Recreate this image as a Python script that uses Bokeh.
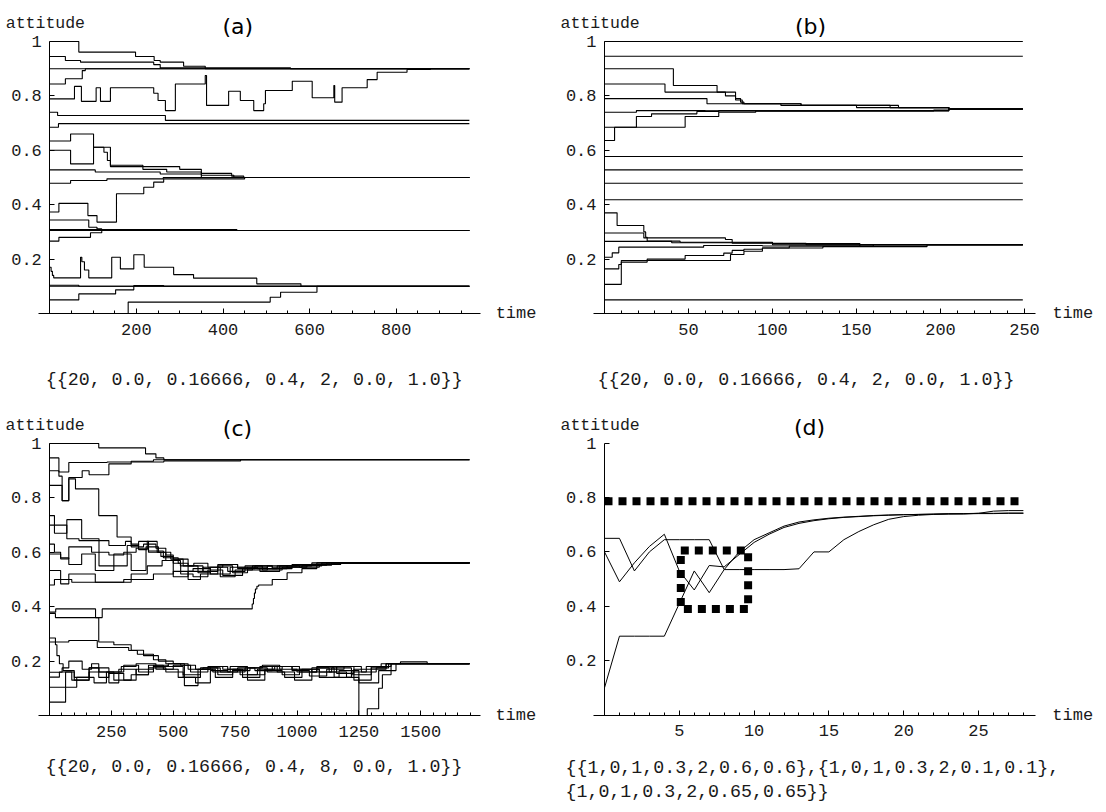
from bokeh.plotting import figure
from bokeh.models import Range1d, LinearAxis, FixedTicker, Label
from bokeh.layouts import column, row
from bokeh.embed import file_html
from bokeh.resources import INLINE

MONO = "Liberation Mono"
SANS = "DejaVu Sans"
INK = "#1a1a1a"

# ---------------- axis ticks ----------------
Y_TICKS = [0.2, 0.4, 0.6, 0.8, 1.0]
Y_LABELS = ["0.2", "0.4", "0.6", "0.8", "1"]
A_XTICKS = [200, 400, 600, 800]
B_XTICKS = [50, 100, 150, 200, 250]
C_XTICKS = [250, 500, 750, 1000, 1250, 1500]
D_XTICKS = [5, 10, 15, 20, 25]
A_MINOR, B_MINOR, C_MINOR, D_MINOR = 50, 10, 50, 1

# ---------------- panel (a): step trajectories ----------------
A_END = 969
a_times = [
    [0, 67, 198, 241, 255, 309, 359],
    [0, 36, 71, 240, 255, 556],
    [0],
    [0, 36, 75, 82],
    [0, 57, 73, 107, 117, 140, 240, 250, 267, 290, 359, 362, 413, 440, 471, 494, 498, 560, 606, 656, 658, 675, 733, 756, 825, 879],
    [0, 18, 267],
    [0, 20],
    [0, 48, 101, 125, 133, 140, 300, 350, 420, 448],
    [0, 48, 101, 140, 215, 270, 350],
    [0, 105, 255, 350, 425],
    [0, 48, 132, 262],
    [0, 21, 88, 109, 154, 217, 240, 263, 450],
    [0, 90, 109, 120],
    [0, 432],
    [0, 21, 94, 120],
    [0],
    [0, 3, 6, 9, 71, 74, 80, 90, 143, 163, 194, 218, 286, 332, 478, 580],
    [0, 67],
    [0, 67, 152, 194, 263],
    [0, 181, 509, 533, 617],
    [0],
]
a_values = [
    [1.0, 0.961, 0.945, 0.93, 0.924, 0.909, 0.9],
    [0.945, 0.93, 0.924, 0.915, 0.903, 0.9],
    [0.9],
    [0.844, 0.863, 0.893, 0.9],
    [0.789, 0.835, 0.78, 0.83, 0.78, 0.83, 0.81, 0.783, 0.746, 0.844, 0.875, 0.765, 0.817, 0.783, 0.746, 0.771, 0.82, 0.854, 0.793, 0.838, 0.777, 0.83, 0.86, 0.887, 0.897, 0.9],
    [0.74, 0.728, 0.71],
    [0.685, 0.698],
    [0.634, 0.66, 0.611, 0.593, 0.5625, 0.54, 0.53, 0.515, 0.505, 0.5],
    [0.60, 0.55, 0.611, 0.545, 0.53, 0.52, 0.5],
    [0.528, 0.52, 0.513, 0.508, 0.5],
    [0.479, 0.489, 0.495, 0.5],
    [0.373, 0.405, 0.36, 0.336, 0.44, 0.464, 0.483, 0.495, 0.5],
    [0.344, 0.317, 0.311, 0.305],
    [0.309, 0.305],
    [0.266, 0.28, 0.297, 0.305],
    [0.305],
    [0.17, 0.155, 0.14, 0.131, 0.207, 0.19, 0.16, 0.131, 0.207, 0.164, 0.216, 0.17, 0.143, 0.13, 0.109, 0.1],
    [0.104, 0.1],
    [0.05, 0.072, 0.087, 0.103, 0.1],
    [0.0, 0.042, 0.06, 0.078, 0.1],
    [0.1],
]

# ---------------- panel (b) ----------------
B_END = 249
b_times = [
    [0], [0], [0], [0], [0], [0], [0],
    [0, 41, 67, 78, 81, 83, 117, 150, 205],
    [0, 36, 72, 78, 82, 105, 170, 205],
    [0, 61, 117, 175, 205],
    [0, 19, 60, 140, 205],
    [0, 6, 19, 28, 55, 68, 90, 205],
    [0, 48, 68, 90, 196, 205],
    [0, 7.5, 23.4, 24.5, 25.4, 45, 100, 152],
    [0, 23.4, 72, 76, 120],
    [0, 4.6, 8.5, 59, 94, 160],
    [0, 8.5, 10, 75, 83, 94, 110, 152],
    [0, 10, 25.4, 48, 71, 76, 83, 94, 130, 192],
    [0, 40, 100],
]
b_values = [
    [1.0], [0.946], [0.577], [0.528], [0.479], [0.418], [0.05],
    [0.9, 0.838, 0.814, 0.79, 0.777, 0.771, 0.765, 0.757, 0.752],
    [0.844, 0.814, 0.8, 0.785, 0.771, 0.765, 0.757, 0.752],
    [0.79, 0.771, 0.765, 0.757, 0.752],
    [0.74, 0.746, 0.745, 0.746, 0.752],
    [0.636, 0.685, 0.724, 0.734, 0.743, 0.746, 0.745, 0.752],
    [0.685, 0.724, 0.74, 0.745, 0.748, 0.752],
    [0.37, 0.3235, 0.3, 0.28, 0.266, 0.262, 0.257, 0.2525],
    [0.296, 0.278, 0.272, 0.258, 0.2525],
    [0.207, 0.223, 0.244, 0.25, 0.248, 0.2525],
    [0.164, 0.18, 0.195, 0.217, 0.229, 0.241, 0.248, 0.2525],
    [0.107, 0.189, 0.2, 0.213, 0.222, 0.232, 0.236, 0.241, 0.246, 0.2525],
    [0.265, 0.26, 0.2525],
]

# ---------------- panel (c) ----------------
C_END = 1697
c_times = [
    [0, 199, 388, 430, 462],
    [0, 38, 78, 233, 462, 772],
    [0, 38, 51, 78, 132, 160, 240, 330, 420],
    [0, 51, 78, 105, 199, 273, 330, 360, 395, 435, 470, 529, 583, 640, 700, 760, 830, 900, 980, 1060],
    [0, 20, 70, 130, 200, 240, 307, 330, 380, 430, 470, 500, 560, 620, 680, 760, 840, 920, 1000, 1080],
    [0, 70, 119, 200, 314, 360, 400, 450, 500, 530, 580, 640, 700, 780, 850, 930, 1010, 1090, 1176],
    [0, 20, 45, 78, 130, 185, 260, 330, 390, 440, 490, 540, 600, 650, 720, 790, 860, 940, 1020, 1100],
    [0, 45, 78, 170, 240, 300, 350, 400, 460, 520, 560, 610, 680, 740, 800, 880, 960, 1040, 1140],
    [0, 45, 78, 185, 260, 330, 395, 455, 500, 560, 620, 690, 750, 820, 900, 980, 1060, 1150],
    [0, 20, 90, 200, 300, 420, 500, 580, 650, 730, 800, 880, 960, 1040, 1120],
    [0, 25, 186, 213, 819, 824, 828, 832, 838, 845, 900, 960, 1020, 1080, 1176],
    [0, 24, 199, 260, 330, 380, 440, 500, 560, 620, 690, 760, 830, 900, 980, 1060, 1140, 1220, 1300, 1360],
    [0, 24, 30, 40, 55, 100, 160, 240, 300, 350, 420, 480, 540, 610, 680, 740, 800, 870, 940, 1010, 1090, 1170, 1250, 1330, 1400],
    [0, 78, 193, 320, 355, 420, 470, 530, 590, 650, 720, 790, 860, 930, 1000, 1080, 1160, 1230, 1300, 1380, 1418, 1526],
    [0, 51, 78, 132, 170, 199, 240, 300, 360, 420, 480, 545, 600, 660, 730, 800, 870, 940, 1010, 1080, 1150, 1220, 1280, 1340],
    [0, 40, 100, 160, 200, 260, 330, 400, 470, 540, 610, 670, 740, 810, 880, 950, 1020, 1090, 1160, 1230, 1300, 1360],
    [0, 65, 90, 160, 240, 280, 350, 400, 460, 520, 590, 650, 720, 780, 850, 920, 990, 1060, 1130, 1200, 1250, 1284, 1330, 1345, 1380],
    [0, 65, 110, 180, 230, 290, 350, 430, 500, 570, 640, 700, 770, 840, 910, 980, 1050, 1120, 1190, 1260, 1320, 1370],
]
c_values = [
    [1.0, 0.984, 0.962, 0.947, 0.94],
    [0.947, 0.895, 0.93, 0.932, 0.936, 0.94],
    [0.9, 0.88, 0.79, 0.875, 0.9, 0.885, 0.925, 0.935, 0.94],
    [0.846, 0.79, 0.87, 0.833, 0.735, 0.656, 0.63, 0.61, 0.64, 0.6, 0.57, 0.55, 0.56, 0.545, 0.555, 0.54, 0.55, 0.545, 0.555, 0.561],
    [0.735, 0.67, 0.72, 0.65, 0.643, 0.625, 0.64, 0.62, 0.63, 0.615, 0.59, 0.575, 0.55, 0.53, 0.555, 0.545, 0.54, 0.55, 0.555, 0.561],
    [0.7, 0.65, 0.643, 0.55, 0.625, 0.64, 0.6, 0.585, 0.56, 0.52, 0.51, 0.535, 0.515, 0.54, 0.53, 0.55, 0.545, 0.555, 0.561],
    [0.63, 0.6, 0.58, 0.555, 0.594, 0.533, 0.594, 0.533, 0.62, 0.6, 0.575, 0.55, 0.525, 0.545, 0.53, 0.55, 0.535, 0.545, 0.55, 0.561],
    [0.594, 0.576, 0.62, 0.6, 0.59, 0.6, 0.615, 0.605, 0.58, 0.56, 0.5, 0.52, 0.55, 0.525, 0.545, 0.54, 0.55, 0.553, 0.561],
    [0.533, 0.484, 0.52, 0.49, 0.49, 0.52, 0.55, 0.57, 0.51, 0.53, 0.545, 0.51, 0.535, 0.55, 0.54, 0.55, 0.556, 0.561],
    [0.48, 0.5, 0.49, 0.49, 0.5, 0.52, 0.53, 0.54, 0.52, 0.545, 0.535, 0.55, 0.545, 0.553, 0.561],
    [0.38, 0.392, 0.36, 0.392, 0.41, 0.43, 0.45, 0.465, 0.475, 0.48, 0.5, 0.525, 0.54, 0.555, 0.561],
    [0.375, 0.36, 0.27, 0.26, 0.24, 0.22, 0.2, 0.19, 0.17, 0.175, 0.16, 0.175, 0.165, 0.18, 0.17, 0.16, 0.175, 0.15, 0.175, 0.19],
    [0.285, 0.26, 0.22, 0.19, 0.165, 0.13, 0.175, 0.155, 0.13, 0.17, 0.185, 0.18, 0.14, 0.175, 0.15, 0.17, 0.13, 0.165, 0.15, 0.17, 0.14, 0.165, 0.12, 0.165, 0.19],
    [0.27, 0.276, 0.25, 0.239, 0.225, 0.205, 0.19, 0.185, 0.17, 0.18, 0.16, 0.175, 0.185, 0.17, 0.16, 0.18, 0.155, 0.17, 0.18, 0.19, 0.197, 0.19],
    [0.159, 0.175, 0.2, 0.17, 0.19, 0.14, 0.16, 0.185, 0.16, 0.18, 0.19, 0.11, 0.17, 0.16, 0.18, 0.15, 0.17, 0.18, 0.16, 0.175, 0.14, 0.16, 0.18, 0.19],
    [0.141, 0.16, 0.14, 0.175, 0.16, 0.13, 0.15, 0.175, 0.16, 0.15, 0.17, 0.14, 0.165, 0.175, 0.16, 0.14, 0.17, 0.16, 0.18, 0.13, 0.17, 0.19],
    [0.104, 0.16, 0.13, 0.16, 0.12, 0.17, 0.15, 0.185, 0.17, 0.14, 0.12, 0.165, 0.17, 0.14, 0.18, 0.16, 0.13, 0.175, 0.16, 0.14, 0.0, 0.025, 0.1, 0.15, 0.19],
    [0.049, 0.104, 0.14, 0.12, 0.16, 0.18, 0.19, 0.17, 0.185, 0.16, 0.18, 0.17, 0.15, 0.17, 0.18, 0.165, 0.145, 0.17, 0.18, 0.16, 0.175, 0.19],
]

# ---------------- panel (d) ----------------
D_TIME = list(range(0, 29))
d_from_01 = [0.10, 0.29, 0.29, 0.29, 0.29, 0.41, 0.53, 0.45, 0.535, 0.535, 0.535, 0.535, 0.535, 0.538, 0.60,
             0.60, 0.645, 0.675, 0.70, 0.72, 0.73, 0.735, 0.738, 0.74, 0.74, 0.742, 0.75, 0.752, 0.752]
d_from_06 = [0.60, 0.49, 0.56, 0.62, 0.665, 0.53, 0.46, 0.55, 0.545, 0.59, 0.635, 0.665, 0.69, 0.705, 0.715,
             0.722, 0.727, 0.73, 0.733, 0.735, 0.737, 0.738, 0.739, 0.74, 0.741, 0.742, 0.742, 0.743, 0.743]
d_from_065 = [0.65, 0.65, 0.53, 0.60, 0.645, 0.645, 0.645, 0.645, 0.535, 0.60, 0.645, 0.67, 0.695, 0.71, 0.718,
              0.724, 0.728, 0.731, 0.734, 0.736, 0.737, 0.738, 0.739, 0.74, 0.74, 0.741, 0.741, 0.742, 0.742]
D_GOAL_T = [0, 28]
D_GOAL_V = [0.786, 0.786]
D_BOX_T = [5.1, 9.6, 9.6, 5.1, 5.1]
D_BOX_V = [0.605, 0.605, 0.39, 0.39, 0.605]

CAP_ABC = ["{{20, 0.0, 0.16666, 0.4, 2, 0.0, 1.0}}"]
CAP_C = ["{{20, 0.0, 0.16666, 0.4, 8, 0.0, 1.0}}"]
CAP_D = ["{{1,0,1,0.3,2,0.6,0.6},{1,0,1,0.3,2,0.1,0.1},", "{1,0,1,0.3,2,0.65,0.65}}"]


def make_panel(width, height, px0, sx, py0, py1, bounds, xticks, minor_step, tag, tag_dx,
               time_dx, cap_lines, cap_dx, cap_dy):
    """px0: pixel of time 0 from the figure's left; sx: pixels per time unit;
    py0 / py1: pixel rows (from the figure's top) of attitude 0 and 1."""
    sy = py0 - py1
    xr = (-px0 / sx, (width - px0) / sx)
    yr = (-(height - py0) / sy, py0 / sy)
    p = figure(width=width, height=height, x_range=Range1d(*xr), y_range=Range1d(*yr),
               output_backend="svg", toolbar_location=None,
               x_axis_location=None, y_axis_location=None, min_border=0)
    p.grid.visible = False
    p.outline_line_color = None
    p.background_fill_color = "white"
    p.border_fill_color = "white"

    minors = [k * minor_step for k in range(1, int(bounds[1] // minor_step) + 1)]
    xa = LinearAxis(fixed_location=0, bounds=bounds,
                    ticker=FixedTicker(ticks=xticks, minor_ticks=minors))
    ya = LinearAxis(fixed_location=0, bounds=(0, 1),
                    ticker=FixedTicker(ticks=Y_TICKS, minor_ticks=[]),
                    major_label_overrides={t: s for t, s in zip(Y_TICKS, Y_LABELS)})
    p.add_layout(xa, "below")
    p.add_layout(ya, "left")
    for ax in (xa, ya):
        ax.axis_line_color = "black"
        ax.axis_line_width = 1
        ax.major_tick_line_color = "black"
        ax.minor_tick_line_color = "black"
        ax.major_tick_in = 5
        ax.major_tick_out = 0
        ax.minor_tick_in = 3
        ax.minor_tick_out = 0
        ax.major_label_text_font = MONO
        ax.major_label_text_font_size = "17px"
        ax.major_label_text_color = INK
    xa.major_label_standoff = 10
    ya.major_label_standoff = 8

    p.add_layout(Label(x=0, y=1, x_offset=-44, y_offset=18, text="attitude",
                       text_font=MONO, text_font_size="16.5px", text_color=INK,
                       text_baseline="alphabetic", text_align="left"))
    p.add_layout(Label(x=0, y=1, x_offset=tag_dx, y_offset=15.5, text=tag,
                       text_font=SANS, text_font_size="22px", text_color="black",
                       text_baseline="middle", text_align="center"))
    p.add_layout(Label(x=bounds[1], y=0, x_offset=time_dx, y_offset=0, text="time",
                       text_font=MONO, text_font_size="17px", text_color=INK,
                       text_baseline="middle", text_align="left"))
    for i, line in enumerate(cap_lines):
        p.add_layout(Label(x=0, y=0, x_offset=cap_dx, y_offset=cap_dy - 24 * i, text=line,
                           text_font=MONO, text_font_size="18.3px", text_color=INK,
                           text_baseline="middle", text_align="left"))
    return p


def draw_steps(p, times, values, t_end):
    for ts, vs in zip(times, values):
        xs = list(ts) + [t_end]
        ys = list(vs) + [vs[-1]]
        p.step(xs, ys, mode="after", line_color="black", line_width=1.1)


WL, WR, HT, HB = 556, 546, 404, 404
pa = make_panel(WL, HT, 49.3, 0.433, 313, 41, (-26, 995), A_XTICKS, A_MINOR, "(a)", 188, 15,
                CAP_ABC, -4, -66)
draw_steps(pa, a_times, a_values, A_END)

pb = make_panel(WR, HT, 48, 1.68, 313, 41, (-6.5, 256.5), B_XTICKS, B_MINOR, "(b)", 206, 17,
                CAP_ABC, -7, -66)
draw_steps(pb, b_times, b_values, B_END)

pc = make_panel(WL, HB, 49, 0.2475, 311, 39, (-44.4, 1741), C_XTICKS, C_MINOR, "(c)", 188, 15,
                CAP_C, -4, -51)
draw_steps(pc, c_times, c_values, C_END)

pd = make_panel(WR, HB, 48, 14.96, 310.5, 38.7, (-0.735, 28.8), D_XTICKS, D_MINOR, "(d)", 205, 17,
                CAP_D, -39, -53)
for series in (d_from_01, d_from_06, d_from_065):
    pd.line(D_TIME, series, line_color="black", line_width=1)
pd.line(D_GOAL_T, D_GOAL_V, line_color="black", line_width=8, line_dash="8 6", line_cap="butt")
pd.line(D_BOX_T, D_BOX_V, line_color="black", line_width=8, line_dash="8 6", line_cap="butt")

layout = column(row(pa, pb), row(pc, pd))
open("out.html", "w").write(file_html(layout, INLINE))
